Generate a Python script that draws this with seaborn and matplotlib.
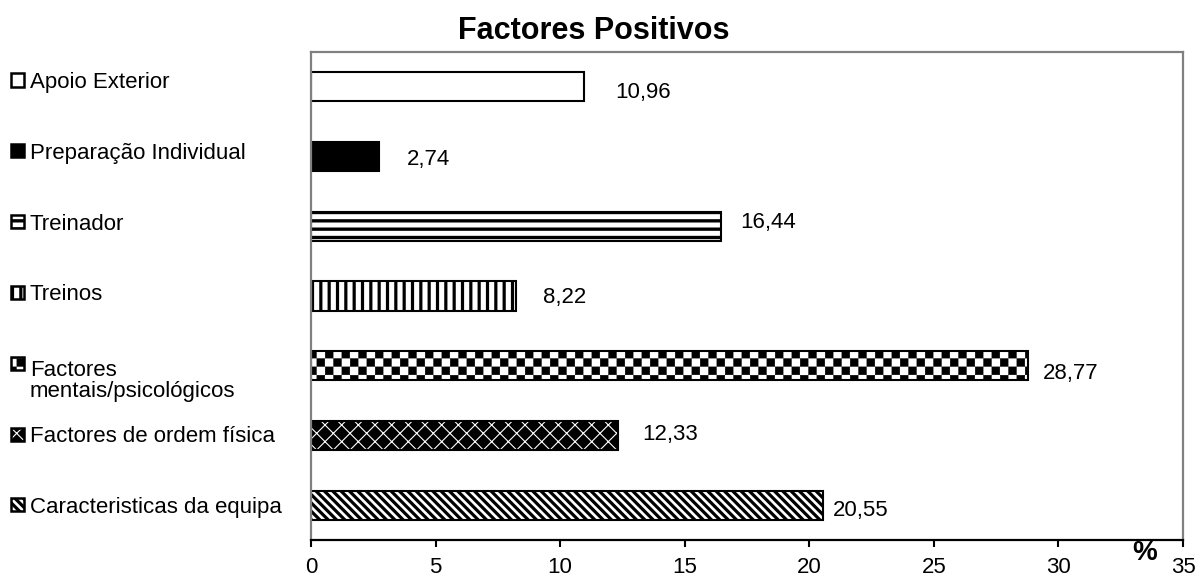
import numpy as np
import pandas as pd
import matplotlib
matplotlib.use("Agg")
import matplotlib.pyplot as plt
import matplotlib.hatch as mhatch
from matplotlib.patches import Rectangle
from matplotlib.path import Path
import seaborn as sns

# ---- data -------------------------------------------------------------
categories = [
    "Apoio Exterior",
    "Preparação Individual",
    "Treinador",
    "Treinos",
    "Factores\nmentais/psicológicos",
    "Factores de ordem física",
    "Caracteristicas da equipa",
]
values = [10.96, 2.74, 16.44, 8.22, 28.77, 12.33, 20.55]
x_ticks = [0, 5, 10, 15, 20, 25, 30, 35]
title = "Factores Positivos"
x_unit = "%"

# ---- per-series fill style ----------------------------------------------
faces = ["white", "black", "white", "white", "white", "black", "white"]
hatches = ["", "", "--", "||", "O", "xx", "\\\\\\\\"]
hatch_colors = ["black", "black", "black", "black", "black", "white", "black"]
hatch_lws = [2.0, 2.0, 2.4, 2.3, 0.3, 0.8, 2.3]

# value-label nudges (pixels): right of bar end, down from bar centre
label_dx = [31, 28, 20, 27, 15, 24, 10]
label_dy = [3, 0, -6, -1, 5, -3, 3]


class CheckerHatch(mhatch.HatchPatternBase):
    """Filled checkerboard hatch, switched on by 'O' in the hatch string."""

    cells_per_unit = 12
    inset = 0.0

    def __init__(self, hatch, density):
        n = self.cells_per_unit if "O" in hatch else 0
        self.n = n
        self.cells = [(i, j) for i in range(n) for j in range(n) if (i + j) % 2 == 0]
        self.num_vertices = 5 * len(self.cells)

    def set_vertices_and_codes(self, vertices, codes):
        s = 1.0 / self.n
        d = CheckerHatch.inset
        sq = np.array([[0, 0], [1, 0], [1, 1], [0, 1], [0, 0]], float)
        for k, (i, j) in enumerate(self.cells):
            vertices[5 * k:5 * k + 5] = sq * (s - 2 * d) + [i * s + d, j * s + d]
            codes[5 * k:5 * k + 5] = [Path.MOVETO, Path.LINETO, Path.LINETO,
                                      Path.LINETO, Path.CLOSEPOLY]


mhatch._hatch_types = [t for t in mhatch._hatch_types
                       if t is not mhatch.LargeCircles] + [CheckerHatch]

sns.set_theme(style="white")
plt.rcParams["font.family"] = ["Liberation Sans", "DejaVu Sans"]
plt.rcParams["hatch.linewidth"] = 2.0
# squares are shrunk so the hatch stroke brings them back to full size
CheckerHatch.inset = 0.3 * 100 / 72 / 2 / 100

W, H = 1200, 585
fig = plt.figure(figsize=(W / 100, H / 100), dpi=100)
fig.patch.set_facecolor("white")
ax = fig.add_axes([311 / W, 1 - 540 / H, (1183 - 311) / W, (540 - 52) / H])

df = pd.DataFrame({"categoria": categories, "valor": values})
sns.barplot(data=df, x="valor", y="categoria", orient="h", color="white",
            saturation=1, edgecolor="black", linewidth=1.5, width=0.42, ax=ax)


def set_hatch_lw(p, lw):
    if hasattr(p, "set_hatch_linewidth"):
        p.set_hatch_linewidth(lw)
    else:
        p._hatch_linewidth = lw


bars = list(ax.patches)
for p, fc, hat, hc, hlw in zip(bars, faces, hatches, hatch_colors, hatch_lws):
    p.set_facecolor(fc)
    p.set_hatch(hat)
    set_hatch_lw(p, hlw)
    if hc != "black":
        # light hatch lines on a dark bar: hatch takes the edge colour,
        # so the black outline is drawn separately on top
        p.set_edgecolor(hc)
        p.set_linewidth(0)
        ax.add_patch(Rectangle((p.get_x(), p.get_y()), p.get_width(), p.get_height(),
                               fill=False, edgecolor="black", linewidth=1.5,
                               zorder=p.get_zorder() + 0.1))

ax.set_xlim(0, 35)
ax.set_ylim(6.5, -0.5)
ax.set_xticks(x_ticks)
ax.set_xticklabels([str(t) for t in x_ticks])
ax.set_yticks([])
ax.set_xlabel("")
ax.set_ylabel("")
ax.tick_params(axis="x", direction="out", length=5, width=1.5, color="black",
               labelsize=16, pad=7, bottom=True, labelcolor="black")
for side in ["left", "right", "top"]:
    ax.spines[side].set_color("#808080")
    ax.spines[side].set_linewidth(1.6)
    ax.spines[side].set_visible(True)
ax.spines["bottom"].set_color("black")
ax.spines["bottom"].set_linewidth(1.6)
ax.spines["bottom"].set_visible(True)

# value labels
for p, v, dx, dy in zip(bars, values, label_dx, label_dy):
    yc = p.get_y() + p.get_height() / 2
    ax.annotate(f"{v:.2f}".replace(".", ","), xy=(v, yc), xycoords="data",
                xytext=(dx, -(dy + 8)), textcoords="offset pixels",
                ha="left", va="baseline", fontsize=16, color="black")

# unit label at the end of the x axis
ax.annotate(x_unit, xy=(1, 0), xycoords="axes fraction", xytext=(-38, -13),
            textcoords="offset pixels", ha="center", va="center",
            fontsize=20, fontweight="bold", color="black", annotation_clip=False)

fig.text(594 / W, 1 - 31 / H, title, ha="center", va="center",
         fontsize=22, fontweight="bold", color="black")

# legend column on the left
top_px, step_px, sw, line_px = 80, 70.8, 13, 26
for i, (lab, fc, hat, hc, hlw) in enumerate(zip(categories, faces, hatches, hatch_colors, hatch_lws)):
    yc = top_px + step_px * i
    light = hc != "black"
    sw_rect = Rectangle((11 / W, 1 - (yc + sw / 2) / H), sw / W, sw / H,
                        transform=fig.transFigure, facecolor=fc,
                        edgecolor=hc, hatch=hat, linewidth=0 if light else 1.8)
    set_hatch_lw(sw_rect, hlw)
    fig.add_artist(sw_rect)
    if light:
        fig.add_artist(Rectangle((11 / W, 1 - (yc + sw / 2) / H), sw / W, sw / H,
                                 transform=fig.transFigure, fill=False,
                                 edgecolor="black", linewidth=1.8))
    # baseline alignment uses the last line, so push multi-line labels down
    n_extra = lab.count("\n")
    fig.text(30 / W, 1 - (yc + 8 + n_extra * line_px) / H, lab, ha="left",
             va="baseline", fontsize=16, linespacing=1.02, color="black")

fig.savefig("out.png", dpi=100)
